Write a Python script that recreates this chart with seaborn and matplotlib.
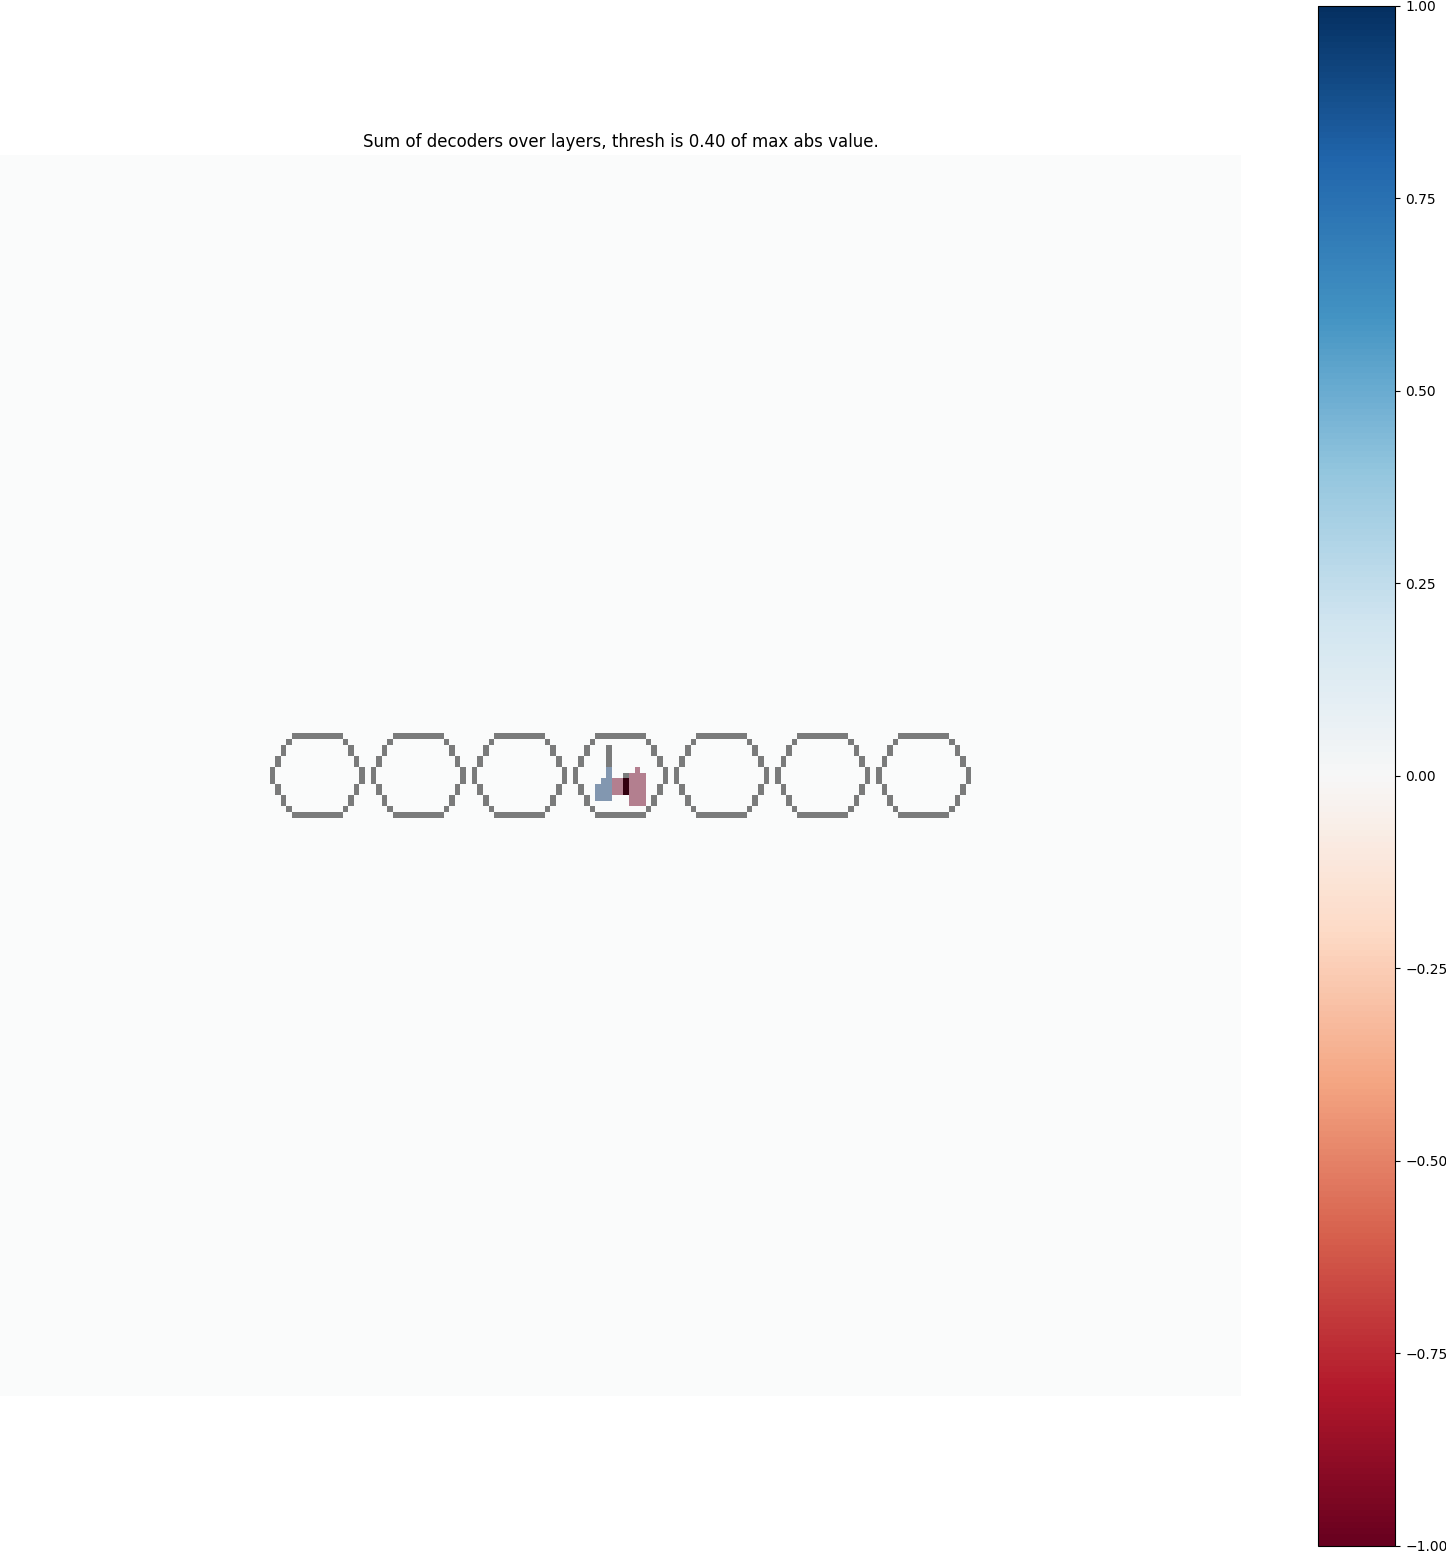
"""Sum of decoders over layers, drawn on top of the ring environment."""

import numpy as np
import matplotlib
matplotlib.use("Agg")
import matplotlib.pyplot as plt
import seaborn as sns

# grid / environment
GRID_SIZE = 221
RING_ROW = 110
RING_COLS = [56, 74, 92, 110, 128, 146, 164]
RING_SHAPE = [
    "....#########....",
    "...#.........#...",
    "..#...........#..",
    "..#...........#..",
    ".#.............#.",
    ".#.............#.",
    "#...............#",
    "#...............#",
    "#...............#",
    ".#.............#.",
    ".#.............#.",
    "..#...........#..",
    "..#...........#..",
    "...#.........#...",
    "....#########....",
]
# extra wall pieces inside the middle ring (row0, row1, col0, col1)
WALL_BLOCKS = [(105, 108, 108, 108), (110, 113, 111, 111)]

# decoder sum, already scaled by max abs value
DECODER_BLOCKS = [
    (109, 110, 108, 108),
    (111, 111, 107, 108),
    (112, 114, 106, 108),
    (111, 113, 109, 111),
    (110, 115, 112, 114),
    (109, 109, 113, 113),
]
DECODER_VALUES = [1.0, 1.0, 1.0, -1.0, -1.0, -1.0]
THRESH = 0.40
CBAR_TICKS = [-1.0, -0.75, -0.5, -0.25, 0.0, 0.25, 0.5, 0.75, 1.0]

# 1 = free space, 0 = wall
env = np.ones((GRID_SIZE, GRID_SIZE))
hh, hw = len(RING_SHAPE) // 2, len(RING_SHAPE[0]) // 2
for c in RING_COLS:
    for i, line in enumerate(RING_SHAPE):
        for j, ch in enumerate(line):
            if ch == "#":
                env[RING_ROW - hh + i, c - hw + j] = 0
for r0, r1, c0, c1 in WALL_BLOCKS:
    env[r0:r1 + 1, c0:c1 + 1] = 0

dec = np.zeros((GRID_SIZE, GRID_SIZE))
for (r0, r1, c0, c1), v in zip(DECODER_BLOCKS, DECODER_VALUES):
    dec[r0:r1 + 1, c0:c1 + 1] = v
dec[np.abs(dec) < THRESH * np.abs(dec).max()] = 0

fig = plt.figure(figsize=(14.46, 15.54), dpi=100)
ax = fig.add_axes([0.0, 0.10167, 0.85823, 0.79858])
cax = fig.add_axes([0.9118, 0.00515, 0.05325, 0.99099])

sns.heatmap(dec, cmap="RdBu", vmin=-1, vmax=1, ax=ax, cbar_ax=cax,
            xticklabels=False, yticklabels=False,
            cbar_kws={"ticks": CBAR_TICKS})
# environment on top, half transparent
sns.heatmap(env, cmap="gray", vmin=0, vmax=1, alpha=0.5, cbar=False, ax=ax,
            xticklabels=False, yticklabels=False)

ax.set_aspect("equal")
ax.axis("off")
ax.set_title(f"Sum of decoders over layers, thresh is {THRESH:.2f} of max abs value.",
             fontsize=12)

cb = ax.collections[0].colorbar
cb.outline.set_linewidth(0.8)
cb.outline.set_edgecolor("black")
cb.ax.set_yticklabels([f"{t:.2f}".replace("-", "\u2212") for t in CBAR_TICKS])
cb.ax.tick_params(right=True, length=3.5, labelsize=10)

fig.savefig("out.png", dpi=100)
